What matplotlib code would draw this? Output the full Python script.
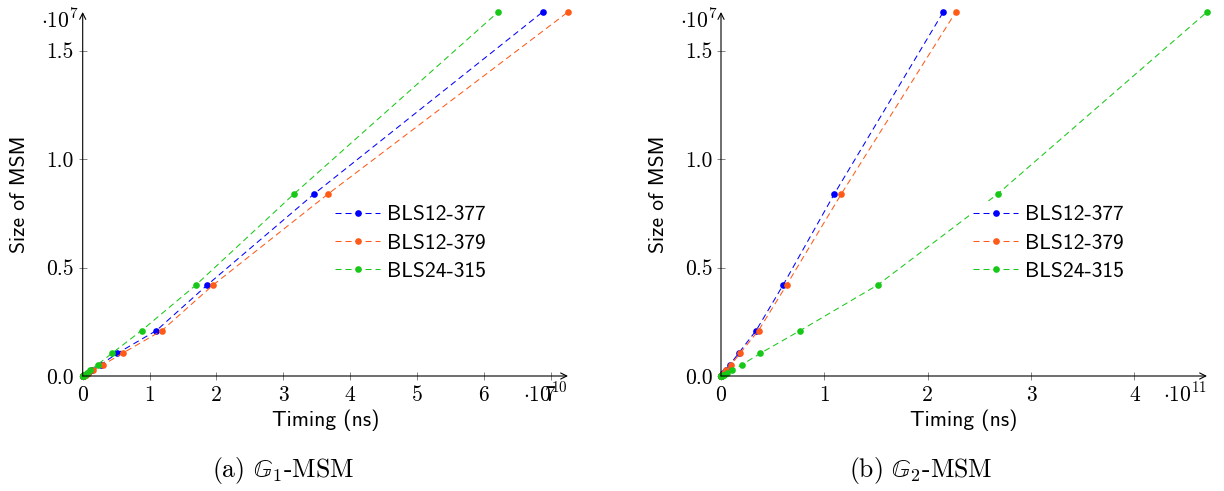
import matplotlib
matplotlib.use("Agg")
import matplotlib.pyplot as plt
from matplotlib.ticker import FixedLocator, FixedFormatter

# ---------------- data ----------------
msm_sizes = [1024, 2048, 4096, 8192, 16384, 32768, 65536, 131072, 262144,
             524288, 1048576, 2097152, 4194304, 8388608, 16777216]

series_names = ["BLS12-377", "BLS12-379", "BLS24-315"]

# G1-MSM timings (ns)
g1_bls12_377 = [0.001e10, 0.0017e10, 0.003e10, 0.0055e10, 0.010e10, 0.019e10, 0.037e10,
                0.072e10, 0.138e10, 0.269e10, 0.52e10, 1.104e10, 1.863e10, 3.46e10, 6.88e10]
g1_bls12_379 = [0.0011e10, 0.002e10, 0.0035e10, 0.0065e10, 0.012e10, 0.022e10, 0.042e10,
                0.08e10, 0.155e10, 0.31e10, 0.596e10, 1.186e10, 1.951e10, 3.67e10, 7.26e10]
g1_bls24_315 = [0.0009e10, 0.0016e10, 0.0028e10, 0.005e10, 0.009e10, 0.016e10, 0.030e10,
                0.058e10, 0.113e10, 0.222e10, 0.438e10, 0.882e10, 1.694e10, 3.16e10, 6.215e10]

# G2-MSM timings (ns)
g2_bls12_377 = [0.00033e11, 0.0006e11, 0.0011e11, 0.002e11, 0.0038e11, 0.007e11, 0.013e11,
                0.024e11, 0.045e11, 0.087e11, 0.170e11, 0.340e11, 0.601e11, 1.096e11, 2.151e11]
g2_bls12_379 = [0.00036e11, 0.00065e11, 0.0012e11, 0.0022e11, 0.004e11, 0.0075e11, 0.014e11,
                0.027e11, 0.050e11, 0.098e11, 0.185e11, 0.363e11, 0.635e11, 1.164e11, 2.272e11]
g2_bls24_315 = [0.00065e11, 0.0012e11, 0.0023e11, 0.0042e11, 0.008e11, 0.015e11, 0.029e11,
                0.055e11, 0.106e11, 0.204e11, 0.382e11, 0.7675e11, 1.516e11, 2.677e11, 4.703e11]

y_ticks = [0.0, 0.5e7, 1.0e7, 1.5e7]
y_tick_labels = ["0.0", "0.5", "1.0", "1.5"]
g1_x_ticks = [0, 1e10, 2e10, 3e10, 4e10, 5e10, 6e10, 7e10]
g1_x_tick_labels = ["0", "1", "2", "3", "4", "5", "6", "7"]
g2_x_ticks = [0, 1e11, 2e11, 3e11, 4e11]
g2_x_tick_labels = ["0", "1", "2", "3", "4"]

xlabel = "Timing (ns)"
ylabel = "Size of MSM"
captions = [r"(a) $\mathbb{G}_1$-MSM", r"(b) $\mathbb{G}_2$-MSM"]
x_scale_labels = [r"$\cdot 10^{10}$", r"$\cdot 10^{11}$"]
y_scale_label = r"$\cdot 10^{7}$"

# ---------------- style ----------------
colors = ["#0000ff", "#ff5a18", "#18c818"]
FS = 15.5
CAP_FS = 18.5
plt.rcParams["mathtext.fontset"] = "cm"
plt.rcParams["axes.formatter.use_mathtext"] = True
SANS = "cmss10"
SERIF = "cmr10"

W, H = 1224, 491
fig = plt.figure(figsize=(W / 100, H / 100), dpi=100)


def fx(px):
    return px / W


def fy(py):
    return (H - py) / H


panels = [
    dict(x0=82.7, x1=568, data=[g1_bls12_377, g1_bls12_379, g1_bls24_315],
         ticks=g1_x_ticks, labels=g1_x_tick_labels, scale=x_scale_labels[0],
         leg_x=335, cap_x=283, ylab_x=19.5, yscale_x=79),
    dict(x0=721, x1=1207, data=[g2_bls12_377, g2_bls12_379, g2_bls24_315],
         ticks=g2_x_ticks, labels=g2_x_tick_labels, scale=x_scale_labels[1],
         leg_x=973, cap_x=921, ylab_x=658, yscale_x=718),
]

top_px, bot_px = 12, 376

for i, p in enumerate(panels):
    ax = fig.add_axes([fx(p["x0"]), fy(bot_px), fx(p["x1"]) - fx(p["x0"]),
                       fy(top_px) - fy(bot_px)])
    for name, xs, c in zip(series_names, p["data"], colors):
        ax.plot(xs, msm_sizes, color=c, lw=0.75, linestyle=(0, (5.8, 3.8)),
                marker="o", ms=4.8, markeredgewidth=0, label=name, clip_on=False,
                zorder=3)
    xmax = max(max(d) for d in p["data"])
    ax.set_xlim(0, xmax)
    ax.set_ylim(0, max(msm_sizes))

    for s in ["top", "right", "left", "bottom"]:
        ax.spines[s].set_visible(False)
    # axis lines with arrows
    ax.annotate("", xy=(1.0, 0), xytext=(0, 0), xycoords="axes fraction",
                arrowprops=dict(arrowstyle="->", lw=0.8, color="black",
                                shrinkA=0, shrinkB=0, mutation_scale=11))
    ax.annotate("", xy=(0, 1.0), xytext=(0, 0), xycoords="axes fraction",
                arrowprops=dict(arrowstyle="->", lw=0.8, color="black",
                                shrinkA=0, shrinkB=0, mutation_scale=11))

    ax.xaxis.set_major_locator(FixedLocator(p["ticks"]))
    ax.xaxis.set_major_formatter(FixedFormatter(p["labels"]))
    ax.yaxis.set_major_locator(FixedLocator(y_ticks))
    ax.yaxis.set_major_formatter(FixedFormatter(y_tick_labels))
    ax.tick_params(axis="both", direction="inout", length=6, width=0.5,
                   color="#555555", labelsize=FS)
    ax.tick_params(axis="x", pad=4.0)
    ax.tick_params(axis="y", pad=3.3)
    for lab in ax.get_xticklabels() + ax.get_yticklabels():
        lab.set_fontfamily(SERIF)

    # scale labels
    fig.text(fx(p["x1"]), fy(402), p["scale"], ha="right", va="baseline",
             fontsize=FS)
    fig.text(fx(p["yscale_x"]), fy(27), y_scale_label, ha="right",
             va="baseline", fontsize=FS)

    # axis labels
    fig.text(fx((p["x0"] + p["x1"]) / 2), fy(420), xlabel, ha="center",
             va="center", fontsize=FS, family=SANS)
    fig.text(fx(p["ylab_x"]), fy(194), ylabel, ha="center", va="center",
             rotation=90, fontsize=FS, family=SANS)

    # caption
    fig.text(fx(p["cap_x"]), fy(470), captions[i], ha="center", va="center",
             fontsize=CAP_FS, family=SERIF)

    # legend
    bp = 0.2
    leg = ax.legend(loc="center left",
                    bbox_to_anchor=(fx(p["leg_x"] - bp * FS * 100 / 72), fy(243)),
                    bbox_transform=fig.transFigure, frameon=True,
                    facecolor="white", edgecolor="none", framealpha=1.0,
                    fancybox=False, borderpad=bp, borderaxespad=0,
                    handlelength=2.1, handletextpad=0.33, labelspacing=0.42,
                    prop=dict(family=SANS, size=FS))
    leg.set_zorder(5)

fig.savefig("out.png", dpi=100)
